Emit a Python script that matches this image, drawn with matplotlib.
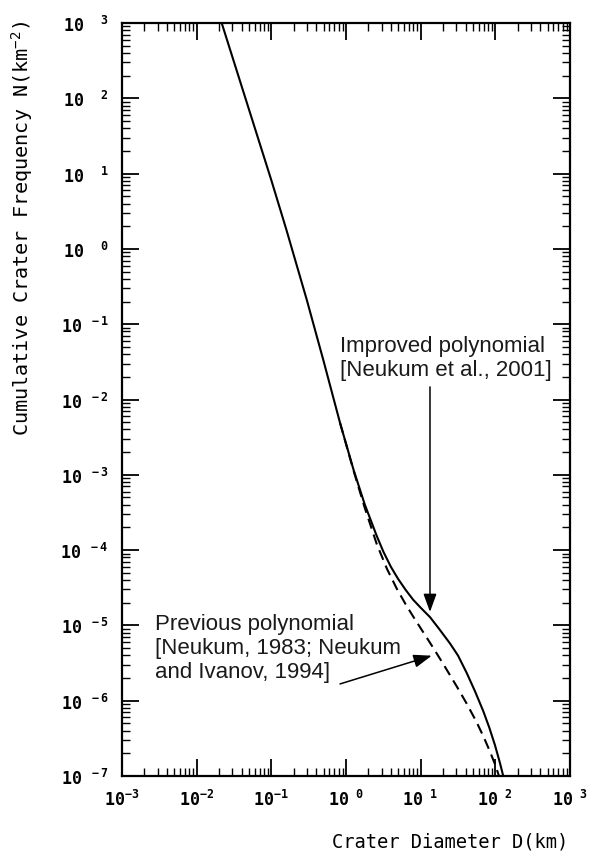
import matplotlib
matplotlib.use('Agg')
import matplotlib.pyplot as plt
import matplotlib.ticker as ticker
import numpy as np

# crater size-frequency curves (D in km, N per km^2)
diam_new = [0.02163, 0.0501, 0.1, 0.1585, 0.2979, 0.5012, 0.8318, 1.259, 1.778, 2.576,
            3.162, 3.981, 4.966, 6.310, 7.943, 10.0, 13.34, 17.78, 24.72, 31.62,
            41.30, 53.70, 69.02, 83.18, 98.86, 114.8, 127.6]
freq_new = [1000.0, 71.45, 8.166, 1.820, 0.2118, 3.236e-2, 4.898e-3, 1.175e-3, 4.074e-4, 1.549e-4,
            9.55e-5, 6.026e-5, 4.169e-5, 2.951e-5, 2.188e-5, 1.718e-5, 1.288e-5, 8.913e-6, 5.754e-6, 3.981e-6,
            2.344e-6, 1.318e-6, 7.244e-7, 4.365e-7, 2.570e-7, 1.514e-7, 1.0e-7]
diam_old = [0.8318, 1.259, 1.778, 2.576, 3.548, 4.775, 6.310, 7.962, 10.72, 14.76,
            20.89, 30.34, 41.69, 56.23, 70.79, 84.72, 100.0, 111.9]
freq_old = [4.898e-3, 1.148e-3, 3.673e-4, 1.208e-4, 5.598e-5, 3.090e-5, 1.897e-5, 1.306e-5, 8.241e-6, 5.023e-6,
            2.877e-6, 1.556e-6, 9.016e-7, 5.176e-7, 3.192e-7, 2.113e-7, 1.396e-7, 1.0e-7]

x_exps = [-3, -2, -1, 0, 1, 2, 3]
y_exps = [-7, -6, -5, -4, -3, -2, -1, 0, 1, 2, 3]

label_new = 'Improved polynomial\n[Neukum et al., 2001]'
label_old = 'Previous polynomial\n[Neukum, 1983; Neukum\nand Ivanov, 1994]'

plt.rcParams['mathtext.fontset'] = 'custom'
plt.rcParams['mathtext.rm'] = 'DejaVu Sans Mono'
plt.rcParams['mathtext.it'] = 'DejaVu Sans Mono'
plt.rcParams['mathtext.bf'] = 'DejaVu Sans Mono:bold'


def tick_text(e, gap):
    # old plotter style: exponent kept in a two-character field
    if e < 0:
        sp = gap
    else:
        sp = gap + 1.1
    if sp > 0:
        return r'$\mathregular{10^{\hspace{%.2f}%d}}$' % (sp, e)
    return r'$\mathregular{10^{%d}}$' % e


x_labels = [tick_text(e, 0.0) for e in x_exps]
y_labels = [tick_text(e, 1.3) for e in y_exps]

fig = plt.figure(figsize=(5.92, 8.54), dpi=100)
ax = fig.add_axes([122 / 592, 1 - 777 / 854, 448 / 592, 753 / 854])

ax.plot(diam_new, freq_new, '-', color='black', lw=1.5)
ax.plot(diam_old, freq_old, color='black', lw=1.5, linestyle=(0, (5, 3)))

ax.set_xscale('log')
ax.set_yscale('log')
ax.set_xlim(1e-3, 1e3)
ax.set_ylim(1e-7, 1e3)

ax.set_xticks([10.0 ** e for e in x_exps])
ax.set_xticklabels(x_labels)
ax.set_yticks([10.0 ** e for e in y_exps])
ax.set_yticklabels(y_labels)
ax.xaxis.set_minor_locator(ticker.LogLocator(base=10, subs=np.arange(2, 10), numticks=30))
ax.yaxis.set_minor_locator(ticker.LogLocator(base=10, subs=np.arange(2, 10), numticks=30))
ax.xaxis.set_minor_formatter(ticker.NullFormatter())
ax.yaxis.set_minor_formatter(ticker.NullFormatter())

ax.tick_params(which='both', direction='in', top=True, right=True, color='black')
ax.tick_params(which='major', length=12, width=1.3)
ax.tick_params(which='minor', length=6, width=1.0)
ax.tick_params(axis='x', which='major', pad=9)
ax.tick_params(axis='y', which='major', pad=10)
for lab in ax.get_xticklabels() + ax.get_yticklabels():
    lab.set_fontfamily('DejaVu Sans Mono')
    lab.set_fontweight('bold')
    lab.set_fontsize(12)
for sp in ax.spines.values():
    sp.set_linewidth(1.6)

ax.set_xlabel('Crater Diameter D(km)', family='DejaVu Sans Mono', fontsize=13.5)
ax.xaxis.set_label_coords(0.996, -0.0863)
ax.xaxis.label.set_ha('right')
ax.xaxis.label.set_va('center')
ax.set_ylabel('Cumulative Crater Frequency N(km$^{-2}$)', family='DejaVu Sans Mono', fontsize=14.5)
ax.yaxis.set_label_coords(-0.222, 1.004)
ax.yaxis.label.set_ha('right')
ax.yaxis.label.set_va('center')

ax.text(0.831, 0.0361, label_new, fontsize=16, family='Liberation Sans', color='#1a1a1a',
        ha='left', va='center', linespacing=1.2)
ax.text(0.00277, 5.09e-6, label_old, fontsize=16, family='Liberation Sans', color='#1a1a1a',
        ha='left', va='center', linespacing=1.2)

arrow = dict(arrowstyle='-|>,head_length=0.55,head_width=0.2', mutation_scale=20,
             color='black', lw=1.1, shrinkA=0, shrinkB=0)
ax.annotate('', xy=(13.33, 1.51e-5), xytext=(13.33, 1.47e-2), arrowprops=arrow)
ax.annotate('', xy=(14.06, 3.96e-6), xytext=(0.832, 1.67e-6), arrowprops=arrow)

fig.savefig('out.png', dpi=100)
